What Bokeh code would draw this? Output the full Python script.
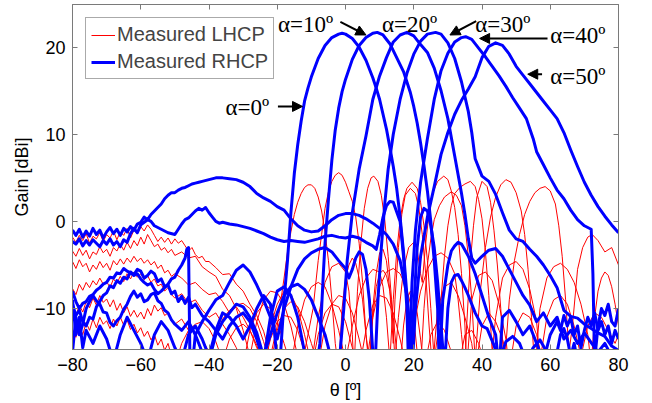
from bokeh.plotting import figure
from bokeh.models import (Range1d, LinearAxis, FixedTicker, Legend, LegendItem,
                          Label, Arrow, NormalHead, CustomJSTickFormatter)
from bokeh.embed import file_html
from bokeh.resources import INLINE

# ---------------- data (theta [deg], gain [dBi]) ----------------
X_TICKS = [-80, -60, -40, -20, 0, 20, 40, 60, 80]
Y_TICKS = [-10, 0, 10, 20]
LEGEND_LABELS = ["Measured LHCP", "Measured RHCP"]
ALPHA_LABELS = ["α=0º", "α=10º", "α=20º", "α=30º", "α=40º", "α=50º"]

# RHCP (co-pol) measured cuts, one per steering angle alpha
R0 = [(-80,-9),(-79,-13),(-78,-11),(-77,-14.5),(-76,-12.5),(-74,-14),(-72,-12),(-70,-13.5),(-68,-16),
      (-66,-13),(-64,-11),(-62,-12.5),(-60,-14),(-58,-16),(-56,-13),(-54,-11.5),(-52,-12.5),(-50,-14.5),
      (-48,-16),(-46,-13),(-44,-12),(-42,-13.5),(-40,-15.5),(-38,-12.5),(-36,-10.5),(-34,-11),(-32,-12),
      (-30,-13.5),(-28,-12),(-26,-10),(-24,-8.5),(-22,-9.5),(-21,-12),(-20,-16),(-19.5,-18),(-18,-9),
      (-17,-4.5),(-16,1.0),(-15,5.5),(-14,8.8),(-13,11.5),(-12,13.8),(-11,15.3),(-10,16.6),(-8,18.7),
      (-6,20.2),(-4,21.1),(-2,21.5),(-1,21.6),(0,21.5),(2,21.0),(4,20.0),(6,18.5),(8,16.5),(9,15.3),
      (10,14.0),(12,10.6),(13,8.5),(14,6.3),(15,3.8),(16,0.5),(17,-3.5),(18,-8.5),(19,-16),(20,-10),
      (21,-3),(22,0.5),(23,1.5),(24,1.2),(25,-0.5),(26,-3),(27,-7),(28,-12),(29,-17),(30,-10),(31,-7),
      (32,-6.2),(33,-6.1),(34,-6.8),(35,-7.6),(36,-8.5),(38,-10.5),(40,-12),(41.5,-12.3),(43.5,-14.2),
      (45,-16),(47,-13.8),(49,-13.2),(51,-14),(53,-16),(55,-14.5),(57,-13.6),(59,-15),(61,-17),
      (63,-13),(64,-12.3),(65,-13.5),(66,-15.5),(67,-14),(68,-16)]
R10 = [(-80,-9.5),(-79,-10.8),(-78,-10.2),(-77,-11.5),(-76,-12),(-75,-11),(-74,-11.2),(-73,-9.8),
       (-72,-9.2),(-71,-8.5),(-70,-8.2),(-69,-7.4),(-68,-7.6),(-67,-6.8),(-66,-7.1),(-65,-6.4),(-64,-6.6),
       (-63,-5.8),(-62,-6.1),(-61,-5.5),(-60,-5.7),(-59,-6.5),(-58,-6.2),(-57,-5.7),(-56,-6.0),(-55,-6.9),
       (-54,-6.6),(-53,-7.5),(-52,-7.3),(-51,-8.3),(-50,-8.0),(-49,-9.2),(-48,-8.6),(-47,-9.4),(-46,-8.7),
       (-45,-9.9),(-44,-9.5),(-42,-10.8),(-40,-11.5),(-38,-12.5),(-36,-13.5),(-34,-12.0),(-32,-11.0),
       (-30,-10.5),(-28,-11.5),(-26,-13.5),(-24,-16),(-22,-11),(-20,-8),(-18,-7.5),(-16,-8.5),(-14,-11),
       (-12,-15),(-10.5,-17.5),(-9,-18),(-7.5,-14),(-6.5,-6),(-6,-2.5),(-5,2.5),(-4,7.0),(-3,10.5),
       (-2,13.0),(-1,14.9),(0,16.3),(2,18.6),(4,20.2),(6,21.1),(8,21.6),(9.3,21.7),(11,21.4),(13,20.4),
       (15,18.8),(17,17.2),(19,14.8),(20,13.2),(21,11.3),(22,9.0),(23,6.4),(24,3.5),(25,0.0),(26,-4.5),
       (27,-10),(27.5,-17),(28.5,-9),(30,-5.0),(31,-3.4),(32,-2.8),(33,-2.4),(34,-2.6),(36,-4.0),(38,-6),
       (40,-8.5),(42,-11),(44,-13),(45,-17),(46,-11),(48,-10.2),(50,-11.5),(52,-13),(54,-12),(56,-14),
       (58,-16),(60,-13),(62,-11.5),(63,-12.5),(64,-10.8),(65,-12),(66,-11),(67,-13),(68,-12),(69,-14.5),
       (70,-12.5),(71,-11),(72,-12),(73,-10.5),(74,-12.5),(75,-11.5),(76,-13),(77,-12),(78,-14),
       (79,-12.5),(80,-13.5)]
R20 = [(-80,-15),(-79,-11),(-78,-13),(-77,-11.8),(-76,-10),(-75,-9.2),(-74,-8.5),(-73,-9.1),(-72,-9.5),
       (-71,-10.4),(-70,-10.5),(-69,-11.6),(-68,-12),(-67,-11.4),(-66,-11),(-65,-10.1),(-64,-9.5),
       (-63,-8.6),(-62,-8.0),(-61,-8.7),(-60,-8.3),(-59,-9.2),(-58,-9.0),(-57,-8.4),(-56,-8.2),(-55,-9.1),
       (-54,-9.4),(-53,-10.2),(-52,-10.5),(-51,-11.3),(-50,-11.8),(-48,-12.5),(-46,-11.5),(-44,-13),
       (-42,-15),(-40,-16),(-38,-13),(-36,-11.5),(-34,-10.5),(-32,-9.5),(-30,-9.8),(-28,-11),(-26,-12.8),
       (-24,-15.5),(-22,-13),(-20,-10.5),(-18,-8.5),(-16,-7.5),(-14,-7.2),(-12,-7.8),(-10,-9),(-8,-11),
       (-6,-13),(-4,-16),(-2,-17),(-0.5,-10),(0.5,-4.5),(2,1.0),(4,6.0),(6,9.8),(8,14.0),(10,16.7),
       (12,18.8),(14,20.6),(16,21.4),(18,21.7),(20,21.3),(22,20.3),(24,19.4),(26,17.6),(28,15.0),
       (30,11.8),(32,7.5),(34,3.2),(35,0.8),(36,-2.0),(37,-4.2),(38,-4.8),(40,-4.0),(42,-3.3),(44,-3.1),
       (46,-4.0),(48,-5.5),(50,-7.0),(52,-8.5),(54,-9.6),(56,-11.5),(58,-10.5),(60,-12.0),(62,-11.0),
       (64,-13.5),(66,-12.5),(68,-14.0),(70,-12.8),(72,-13.9),(74,-15),(76,-14),(78,-15.5),(80,-16)]
R30 = [(-80,-8.0),(-79,-9.2),(-78,-10.0),(-77,-9.4),(-76,-9.2),(-75,-8.6),(-74,-8.4),(-73,-7.9),
       (-72,-7.6),(-71,-7.2),(-70,-7.0),(-69,-6.4),(-68,-6.5),(-67,-5.9),(-66,-6.0),(-65,-5.4),(-64,-5.7),
       (-63,-5.9),(-62,-6.2),(-61,-6.0),(-60,-6.6),(-59,-7.0),(-58,-7.3),(-57,-7.1),(-56,-7.8),(-55,-8.3),
       (-54,-8.0),(-53,-7.6),(-52,-7.2),(-51,-6.6),(-50,-6.4),(-49,-5.6),(-48,-5.0),(-47,-4.2),
       (-46.5,-3.2),(-46,-3.0),(-45.6,-15.5),(-45,-17),(-44,-13),(-42,-11.5),(-40,-10.2),(-38,-9.0),
       (-36,-8.5),(-34,-7.0),(-32,-5.6),(-30,-5.0),(-28,-5.8),(-26,-7.3),(-24,-9),(-22,-11),(-20,-13.5),
       (-18,-10),(-16,-7.5),(-14,-5.5),(-12,-4.3),(-10,-3.6),(-8,-3.2),(-6,-3.0),(-4,-3.5),(-2,-4.5),
       (0,-5.4),(1,-6.5),(2,-5.5),(3,-4.2),(4,-3.5),(5,-3.8),(6,-5.5),(7,-9),(8,-15),(8.5,-18),(9.5,-9),
       (10.5,-3),(11.5,2),(12.5,6),(14,10),(16,14),(18,17),(20,19.2),(22,20.7),(24,21.5),(26.4,21.7),
       (28,21.5),(30,20.5),(32,18.7),(34,16.0),(36,12.6),(37,10.2),(38,7.2),(40,5.2),(42,4.6),(44,3.1),
       (46,1.0),(48,-1.0),(50,-2.0),(52,-2.3),(54,-3.2),(56,-4.0),(58,-5.0),(60,-6.2),(62,-7.6),
       (64,-10.2),(66,-10.9),(68,-11.1),(70,-11.8),(72,-12.3),(74,-12.8),(76,-13.2),(78,-14.3),(80,-14.8)]
R40 = [(-80,-2.3),(-79,-2.6),(-78,-2.0),(-77,-2.8),(-76,-2.2),(-75,-2.7),(-74,-2.1),(-73,-2.5),
       (-72,-2.9),(-71,-2.2),(-70,-2.6),(-69,-2.0),(-68,-2.7),(-67,-2.3),(-66,-2.9),(-65,-2.1),
       (-64,-2.4),(-63,-1.4),(-62,-0.8),(-61,-1.3),(-60,-0.4),(-59,-0.1),(-58,0.2),(-57,0.0),(-56,-0.5),
       (-54,-0.9),(-52,-1.3),(-50,-1.5),(-49,-0.9),(-48,-0.3),(-47,0.2),(-46,0.4),(-45,0.8),(-44,1.2),
       (-43,1.5),(-42,1.3),(-41,1.6),(-40,1.0),(-39,0.5),(-38,0.0),(-37,-0.2),(-36,-0.1),(-34,-0.3),
       (-32,-0.4),(-30,-0.6),(-28,-0.8),(-26,-1.1),(-24,-1.4),(-22,-1.8),(-20,-2.1),(-18,-2.3),
       (-16,-2.2),(-14,-2.3),(-12,-2.4),(-10,-2.2),(-8,-2.0),(-6,-1.7),(-4,-1.6),(-2,-1.8),(0,-1.9),
       (2,-1.7),(4,-1.9),(6,-2.4),(8,-2.8),(9,-3.2),(10,-1.5),(11,0.5),(12,1.8),(13,2.3),(14,2.2),
       (16,0.0),(17,-4),(18,-10),(18.5,-17),(19.5,-7),(20.5,-1),(22,4.5),(24,9.5),(26,14.0),(28,17.3),
       (30,19.3),(32,20.6),(34,21.1),(35.2,21.2),(37,20.9),(39,19.9),(41,18.9),(43,17.8),(45,16.7),
       (47,15.5),(49,14.2),(51,13.0),(53,11.8),(55,9.5),(56,8.0),(58,6.5),(60,5.0),(62,3.6),(64,2.6),
       (66,1.3),(68,0.2),(70,-0.5),(72,-0.9),(72.5,-6),(73,-16),(74,-12),(75,-10),(76,-10.8),(77,-9.5),
       (78,-11.5),(79,-12),(80,-10)]
R50 = [(-80,-1.0),(-79,-1.6),(-78,-0.9),(-77,-1.8),(-76,-1.1),(-75,-1.7),(-74,-0.8),(-73,-1.5),
       (-72,-1.0),(-71,-1.9),(-70,-1.2),(-69,-0.7),(-68,-1.4),(-67,-0.9),(-66,-1.6),(-65,-0.8),
       (-64,-1.2),(-63,-0.6),(-62,-1.0),(-61,-0.3),(-60,-0.1),(-59,0.5),(-58,0.2),(-57,0.8),(-56,1.2),
       (-55,1.6),(-54,2.0),(-53,2.6),(-52,3.0),(-51,3.3),(-50,3.3),(-49,3.6),(-48,3.8),(-47,3.9),
       (-46,4.1),(-45,4.3),(-44,4.4),(-43,4.5),(-42,4.6),(-40,4.8),(-38,5.0),(-36,5.0),(-34,4.9),
       (-32,4.8),(-30,4.5),(-28,4.0),(-26,3.2),(-24,2.7),(-22,2.3),(-20,1.7),(-18,1.3),(-16,0.3),
       (-14,-0.5),(-12,-1.0),(-10,-1.2),(-8,-1.1),(-6,-0.5),(-4,0.2),(-2,0.7),(0,0.9),(2,0.9),(4,0.7),
       (6,0.3),(8,-0.2),(10,-0.8),(12,-1.5),(14,-2.6),(16,-4.5),(18,-8.5),(19,-13),(19.5,-17),
       (20.5,-10),(22,-4.0),(24,0.5),(26,4.0),(28,7.7),(30,10.2),(32,12.3),(34,13.9),(36,15.2),
       (38,16.6),(40,18.8),(42,20.1),(44,20.5),(46,20.2),(48,19.2),(50,17.8),(52,16.8),(54,15.8),
       (56,14.8),(58,13.8),(60,12.8),(62,11.8),(64,10.2),(66,8.2),(68,6.3),(70,4.5),(72,3.0),(74,1.7),
       (76,0.6),(78,-0.4),(80,-1.3)]

# LHCP (cross-pol): noisy far-left part (theta -80..-51, 1 deg steps) + remaining points
FAR_THETA = list(range(-80, -50))
L0_far = [-1.8,-2.4,-1.6,-2.2,-1.4,-2.5,-1.7,-2.0,-1.3,-2.3,
          -1.5,-1.9,-1.1,-2.1,-1.2,-1.6,-0.8,-1.9,-1.0,-1.4,
          -0.6,-1.1,-0.4,-0.9,-1.6,-2.3,-1.8,-2.4,-1.9,-2.6]
L0_rest = [(-50,-2.0),(-49,-2.5),(-48,-2.2),(-47,-2.8),(-46,-3.4),(-45,-3.0),(-44,-3.8),(-43,-4.2),
           (-42,-4.0),(-41,-4.6),(-40,-4.6),(-38,-5.3),(-36,-6.1),(-34,-6.0),(-32,-7.2),(-30,-8.0),
           (-28,-9.5),(-26,-10.8),(-24,-12.6),(-22,-15.5),(-20,-12.0),(-18,-6.5),(-17,-3.5),(-16,-1.2),
           (-15,0.8),(-14,2.2),(-13,3.2),(-12,3.9),(-11,4.2),(-10,4.2),(-9,3.8),(-8,2.8),(-7,1.2),
           (-6,-1.2),(-5,-4.5),(-4,-9),(-3,-14),(-2,-17),(-1,-10),(0,-6.5),(1,-5.0),(2,-4.2),(3,-4.8),
           (4,-6.5),(5,-9),(6,-13),(7,-16),(8,-11),(9,-7.5),(10,-6.0),(11,-5.6),(12,-6.2),(13,-8),
           (14,-11),(15,-15),(16,-17),(17,-12),(18,-9),(19,-8),(20,-8.6),(21,-10.5),(22,-13.5),(23,-17),
           (25,-13),(27,-11.5),(29,-12.5),(31,-15),(33,-17),(35,-13),(37,-12.5),(39,-14),(41,-16.5)]
L10_far = [-3.4,-4.0,-3.1,-3.9,-3.3,-4.3,-3.5,-3.8,-2.9,-3.6,
           -3.2,-4.0,-3.0,-3.4,-2.6,-3.3,-2.4,-3.1,-2.2,-2.8,
           -1.8,-2.6,-1.5,-2.2,-2.9,-2.6,-3.3,-3.0,-3.6,-3.2]
L10_rest = [(-50,-3.9),(-48,-3.5),(-46,-4.2),(-44,-4.0),(-42,-5.2),(-40,-5.8),(-38,-6.3),(-36,-7.8),
            (-34,-8.5),(-32,-10.0),(-30,-12.5),(-28,-15.5),(-26,-11.5),(-24,-9.0),(-22,-8.0),(-20,-8.2),
            (-18,-9.5),(-16,-12),(-14,-15.5),(-13,-17),(-11.5,-14),(-9.5,-10),(-8,-4.5),(-7,-1.5),
            (-6,1.5),(-5,3.4),(-4,4.6),(-3,5.3),(-2,5.6),(-1,5.3),(0,4.5),(1,3.4),(2,2.3),(3,0.5),
            (4,-2.5),(5,-7),(6,-13),(7,-17),(8,-10),(9,-6),(10,-3.6),(11,-3.2),(12,-4.5),(13,-8),
            (14,-14),(14.5,-9),(15.5,-3),(16.5,0.8),(17.5,3.0),(19,3.8),(20.5,3.2),(21.5,1.5),
            (22.5,-1.5),(23.5,-6),(24.5,-12),(25.5,-17),(27,-10),(29,-7.5),(31,-7.0),(33,-8.5),(35,-11),
            (37,-14),(38,-17),(40,-12),(42,-10.5),(44,-11.5),(46,-13.5),(48,-16.5)]
L20_far = [-4.6,-5.4,-4.4,-5.2,-4.8,-5.8,-5.0,-5.5,-4.6,-5.3,
           -4.8,-5.6,-4.5,-5.0,-4.3,-4.9,-4.2,-4.7,-4.0,-4.6,
           -4.2,-4.8,-4.4,-5.0,-4.6,-5.4,-5.0,-5.9,-5.6,-6.3]
L20_rest = [(-50,-6.0),(-48,-6.5),(-46,-7.3),(-44,-7.0),(-42,-7.8),(-40,-8.4),(-38,-8.2),(-36,-9.2),
            (-34,-10.5),(-32,-9.8),(-30,-11.0),(-28,-12.5),(-26,-14.5),(-24,-16),(-22,-12.0),(-20,-9.5),
            (-18,-8.0),(-16,-8.4),(-14,-10),(-12,-13),(-10,-16.5),(-8,-11),(-6,-7.0),(-4,-5.2),(-2,-4.8),
            (0,-5.8),(1,-8),(2,-13),(2.5,-17),(3.5,-8),(4.5,-2.5),(5.5,1.5),(6.5,3.8),(7.5,5.0),(8.3,5.2),
            (9.5,4.6),(10.5,3.0),(11.5,0.2),(12.5,-4),(13.5,-9),(14.5,-16),(15.5,-11),(17,-5.5),
            (18.5,-3.0),(20,-2.4),(21,-3.2),(22,-6),(22.5,-7),(23.5,-2.5),(24.5,1.0),(25.5,3.2),
            (27,4.6),(28.8,5.2),(30,4.8),(31,3.5),(32,1.6),(33,-1.5),(34,-6),(35,-12),(35.5,-17),(37,-9),
            (39,-6.2),(41,-5.8),(43,-6.8),(45,-9.5),(47,-13.5),(48,-17),(50,-12),(52,-10.5),(54,-11),
            (56,-13),(58,-16.5)]
L30_far = [-7.7,-8.4,-7.2,-7.9,-7.0,-7.6,-6.8,-7.3,-6.5,-7.2,
           -6.9,-7.6,-6.6,-7.1,-6.3,-6.9,-6.0,-6.6,-5.8,-6.4,
           -6.0,-6.7,-6.2,-7.0,-6.6,-7.4,-7.2,-8.0,-7.6,-8.4]
L30_rest = [(-50,-8.8),(-48,-8.3),(-46,-9.4),(-44,-9.0),(-42,-10.2),(-40,-11.0),(-38,-10.5),(-36,-11.8),
            (-34,-13.0),(-32,-14.5),(-30,-16.5),(-28,-12.5),(-26,-10.5),(-24,-9.5),(-22,-10.0),
            (-20,-11.5),(-18,-14),(-16,-16.5),(-14,-12),(-12,-9),(-10,-7.5),(-8,-7.0),(-6,-7.5),(-4,-9.5),
            (-2,-12.5),(0,-16),(2,-12),(4,-8.5),(6,-6.5),(8,-5.5),(10,-5.8),(11,-7.5),(12,-11),(13,-16),
            (14,-9),(15,-3.5),(16,0.2),(17,2.5),(18,3.8),(19.5,4.5),(21,3.8),(22,2.2),(23,-0.5),(24,-4.5),
            (25,-10),(26,-16),(27,-13),(28,-9),(29,-4),(30,-0.5),(31,1.8),(32,3.2),(33.5,3.9),(35,4.3),
            (36.6,4.6),(38,4.0),(39,2.5),(40,0.3),(41,-3.5),(42,-8.5),(43,-15),(44,-11),(46,-6.5),
            (48,-5.0),(50,-4.6),(52,-5.5),(54,-7.8),(56,-11.5),(57,-16),(59,-11),(61,-9),(63,-8.5),
            (65,-9.5),(67,-12),(69,-15.5),(71,-12),(73,-10.5),(75,-11),(77,-12.5),(79,-14),(80,-13)]
L40_far = [-10.0,-10.8,-9.6,-10.4,-9.2,-9.9,-8.8,-9.6,-8.5,-9.3,
           -8.9,-9.8,-9.0,-10.2,-9.4,-10.5,-9.8,-10.9,-10.2,-11.0,
           -10.4,-11.2,-10.0,-10.8,-9.6,-10.3,-9.9,-10.8,-10.5,-11.4]
L40_rest = [(-50,-11.8),(-48,-11.2),(-46,-12.5),(-44,-12.0),(-42,-13.5),(-40,-15.0),(-38,-13.0),
            (-36,-11.2),(-34,-10.2),(-32,-9.6),(-30,-9.4),(-28,-10.0),(-26,-11.5),(-24,-13.8),
            (-22,-16.5),(-20,-12.5),(-18,-10.0),(-16,-9.2),(-14,-9.8),(-12,-11.5),(-10,-14),(-8,-16.5),
            (-6,-12),(-4,-9.5),(-2,-8.5),(0,-8.8),(2,-10.5),(4,-13.5),(6,-17),(8,-11),(10,-7.5),(12,-5.8),
            (14,-5.4),(16,-6.0),(18,-7.8),(20,-11),(21,-15),(22,-17),(23,-10),(24,-5),(25,-2),(26,0.2),
            (27.5,1.8),(29,2.8),(31,3.4),(32.5,3.0),(34,1.8),(35,-0.5),(36,-4),(37,-9),(38,-16),
            (39.5,-8),(41,-3),(42.5,0.5),(44,2.8),(45.5,4.2),(47,4.8),(48.5,4.5),(50,3.3),(51.5,1.2),
            (52.5,-1.5),(53.5,-5.5),(54.5,-11),(55.5,-17),(57,-10),(59,-6.5),(61,-5.2),(63,-4.8),
            (65,-5.5),(67,-7.0),(69,-9.5),(71,-13),(72,-16.5),(73,-11),(74,-8),(75,-6.5),(76,-5.8),
            (77,-6.2),(78,-7.5),(79,-9.5),(80,-12)]
L50_far = [-12.4,-13.3,-12.0,-13.0,-11.6,-12.5,-11.2,-12.2,-11.0,-11.8,
           -11.4,-12.3,-11.2,-12.0,-11.0,-11.9,-11.3,-12.4,-11.8,-12.8,
           -12.2,-13.2,-12.6,-13.6,-13.0,-14.2,-13.5,-14.8,-14.0,-15.5]
L50_rest = [(-50,-16.5),(-48,-14.0),(-46,-12.5),(-44,-11.8),(-42,-11.5),(-40,-12.3),(-38,-13.8),
            (-36,-16.0),(-34,-13.5),(-32,-12.2),(-30,-11.8),(-28,-12.5),(-26,-14.2),(-24,-16.8),
            (-22,-13.5),(-20,-11.5),(-18,-10.8),(-16,-11.0),(-14,-12.5),(-12,-15),(-10,-17),(-8,-13),
            (-6,-10.5),(-4,-9.5),(-2,-9.8),(0,-11.5),(2,-14.5),(4,-17),(6,-12.5),(8,-9.6),(10,-8.5),
            (12,-8.8),(14,-10.5),(16,-13.5),(18,-17),(20,-12),(22,-8.0),(24,-5.5),(26,-4.0),(28,-3.6),
            (30,-4.2),(32,-6.0),(33,-9),(34,-13),(35,-17),(35.5,-12),(36.5,-5),(37.5,-0.5),(38.5,2.8),
            (40,4.6),(41.5,4.0),(42.5,2.2),(43.5,-1),(44.5,-5),(45.5,-10),(46.5,-17),(48,-9),(49.5,-4.5),
            (51,-1.5),(52.5,0.8),(54,2.3),(55.5,3.3),(57,3.8),(58.5,4.0),(60,3.5),(61.5,2.0),(62.5,-0.5),
            (63.5,-4),(64.5,-9),(65.5,-15),(66.5,-12),(68,-5.5),(69.5,-3.0),(71,-1.8),(72.3,-1.5),
            (74,-2.2),(76,-3.5),(78,-3.0),(80,-5.0)]

RHCP = [R0, R10, R20, R30, R40, R50]
LHCP = [(L0_far, L0_rest), (L10_far, L10_rest), (L20_far, L20_rest),
        (L30_far, L30_rest), (L40_far, L40_rest), (L50_far, L50_rest)]

# ---------------- figure ----------------
GRAY = "#7a7a7a"
FONT = "Liberation Sans"
p = figure(width=652, height=403, output_backend="svg", toolbar_location=None,
           x_range=Range1d(-80, 80), y_range=Range1d(-14.7, 24.9),
           min_border_left=72, min_border_right=34, min_border_top=4, min_border_bottom=54)
p.background_fill_color = "white"
p.border_fill_color = "white"
p.outline_line_color = GRAY
p.xgrid.visible = False
p.ygrid.visible = False

for ax, ticks in ((p.xaxis[0], X_TICKS), (p.yaxis[0], Y_TICKS)):
    ax.ticker = FixedTicker(ticks=ticks)
    ax.axis_line_color = GRAY
    ax.major_tick_line_color = GRAY
    ax.major_tick_in = 5
    ax.major_tick_out = 0
    ax.minor_tick_line_color = None
    ax.major_label_text_font = FONT
    ax.major_label_text_font_size = "18px"
    ax.major_label_text_color = "black"
    ax.axis_label_text_font = FONT
    ax.axis_label_text_font_size = "18px"
    ax.axis_label_text_font_style = "normal"
    ax.axis_label_text_color = "black"

p.xaxis.axis_label = "θ [º]"
p.yaxis.axis_label = "Gain [dBi]"
p.xaxis.major_label_standoff = 8
p.yaxis.major_label_standoff = 7
p.xaxis.axis_label_standoff = 6
p.yaxis.axis_label_standoff = 0

blank = CustomJSTickFormatter(code="return ''")
for loc, ticks in (("above", X_TICKS), ("right", Y_TICKS)):
    ax = LinearAxis(ticker=FixedTicker(ticks=ticks), formatter=blank,
                    axis_line_color=GRAY, major_tick_line_color=GRAY,
                    major_tick_in=5, major_tick_out=0, minor_tick_line_color=None,
                    major_label_text_font_size="1px", major_label_standoff=0)
    p.add_layout(ax, loc)

red_r = []
for far, rest in LHCP:
    xs = FAR_THETA + [t for t, _ in rest]
    ys = far + [g for _, g in rest]
    red_r.append(p.line(xs, ys, line_color="#ff0000", line_width=1))

blue_r = []
for curve in RHCP:
    xs = [t for t, _ in curve]
    ys = [g for _, g in curve]
    blue_r.append(p.line(xs, ys, line_color="#0000ff", line_width=3, line_join="round"))

legend = Legend(items=[LegendItem(label=LEGEND_LABELS[0], renderers=[red_r[0]]),
                       LegendItem(label=LEGEND_LABELS[1], renderers=[blue_r[0]])],
                location="top_left", margin=13, padding=5, spacing=4,
                label_text_font=FONT, label_text_font_size="20px",
                label_standoff=2, glyph_width=24, glyph_height=22, label_height=22,
                border_line_color="#555555", border_line_width=1,
                background_fill_color="white", background_fill_alpha=1.0)
p.add_layout(legend)

# annotations: label position (theta, gain) and arrow (start -> end)
LABEL_POS = [(-35.2, 13.1), (-19.8, 22.6), (10.7, 22.6), (38.0, 22.6), (60.0, 21.3), (60.0, 16.6)]
ARROWS = [((-19.8, 13.2), (-12.6, 13.2)),
          ((-1.5, 22.9), (6.0, 21.4)),
          ((38.3, 23.0), (30.6, 21.4)),
          ((59.2, 21.0), (39.3, 21.0)),
          ((57.6, 16.9), (53.4, 16.9))]
for (x, y), txt in zip(LABEL_POS, ALPHA_LABELS):
    p.add_layout(Label(x=x, y=y, text=txt, text_font="Liberation Serif",
                       text_font_size="23px", text_baseline="middle", text_align="left",
                       text_color="black"))
for (xs, ys), (xe, ye) in ARROWS:
    p.add_layout(Arrow(x_start=xs, y_start=ys, x_end=xe, y_end=ye, line_width=2,
                       line_color="black",
                       end=NormalHead(size=10, fill_color="black", line_color="black")))

open("out.html", "w").write(file_html(p, INLINE))
